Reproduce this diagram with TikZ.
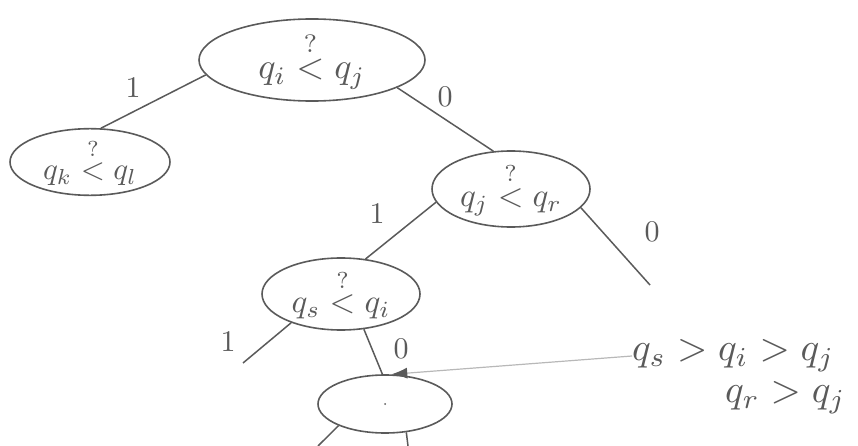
\documentclass[tikz,border=0pt]{standalone}
\usepackage{amsmath}
\usepackage{graphicx}
\usetikzlibrary{shapes.geometric,arrows.meta}
\definecolor{pen}{HTML}{5A5A5A}
\definecolor{faint}{HTML}{B8B8B8}
\tikzset{
  bubble/.style={ellipse, draw=pen, line width=1.6pt, inner sep=0pt, text=pen},
  edge/.style={draw=pen, line width=1.5pt},
  lbl/.style={text=pen},
  rel/.style={text=pen, inner sep=0pt, anchor=west}
}
\newcommand{\qlt}[3]{\scalebox{#3}{$q_{#1}\overset{?}{<}q_{#2}$}}
\newcommand{\lb}[1]{\scalebox{3.0}{#1}}
\newcommand{\rl}[1]{\scalebox{3.9}{#1}}
\begin{document}
\begin{tikzpicture}[x=1pt,y=-1pt]
\useasboundingbox (0,0) rectangle (858,446);
% nodes
\node[bubble, minimum width=226pt, minimum height=82pt] (root) at (312,60) {\qlt{i}{j}{3.6}};
\node[bubble, minimum width=160pt, minimum height=66pt] (kl) at (90,162) {\qlt{k}{l}{3.1}};
\node[bubble, minimum width=158pt, minimum height=76pt] (jr) at (511,189) {\qlt{j}{r}{3.3}};
\node[bubble, minimum width=158pt, minimum height=72pt] (si) at (341,294) {\qlt{s}{i}{3.3}};
\node[bubble, minimum width=134pt, minimum height=58pt] (bot) at (385,404) {};
\fill[pen] (bot.center) circle (1pt);
% free ends
\coordinate (e1) at (650,285);
\coordinate (e2) at (243,363);
\coordinate (t1) at (318,446);
\coordinate (t2) at (408,446);
% edges
\draw[edge] (root.188) -- (kl.72);
\draw[edge] (root.-18) -- (jr.115);
\draw[edge] (jr.-15) -- (e1);
\draw[edge] (jr.190) -- (si.55);
\draw[edge] (si.-150) -- (e2);
\draw[edge] (si.-57) -- (bot.95);
\draw[edge] (bot.-155) -- (t1);
\draw[edge] (bot.-53) -- (t2);
% edge labels
\node[lbl] (l1) at (133,88) {\lb{1}};
\node[lbl] (l2) at (445,97) {\lb{0}};
\node[lbl] (l3) at (377,214) {\lb{1}};
\node[lbl] (l4) at (652,232) {\lb{0}};
\node[lbl] (l5) at (401,349) {\lb{0}};
\node[lbl] (l6) at (228,342) {\lb{1}};
% conclusions
\node[rel] (c1) at (632,356) {\rl{$q_s > q_i > q_j$}};
\node[rel] (c2) at (725,398) {\rl{$q_r > q_j$}};
\draw[faint, line width=1.2pt, -{Latex[length=16pt,width=11pt,color=pen]}] (c1.west) -- (bot.78);
\end{tikzpicture}
\end{document}
